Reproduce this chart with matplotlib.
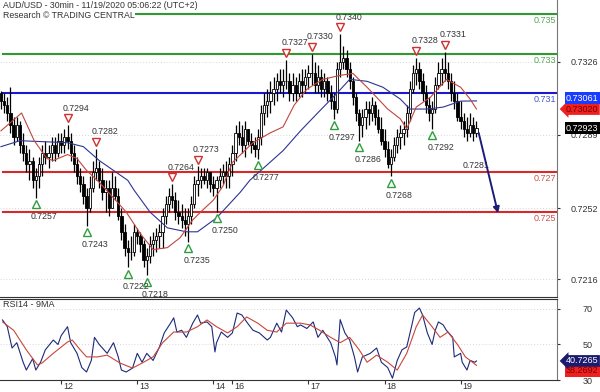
import numpy as np
import matplotlib
matplotlib.use('Agg')
import matplotlib.pyplot as plt
from matplotlib import transforms

plt.rcParams['font.family'] = ['Liberation Sans', 'DejaVu Sans']

# hourly candles, first one 11/11 05:00 (UTC+2)
first_open = 0.7310
highs = [0.7311, 0.7310, 0.7308, 0.7313, 0.7298, 0.7298, 0.7296, 0.7290, 0.7284, 0.7282,
         0.7278, 0.7272, 0.7278, 0.7284, 0.7286, 0.7284, 0.7288, 0.7288, 0.7290, 0.7290,
         0.7292, 0.7294, 0.7290, 0.7284, 0.7278, 0.7272, 0.7268, 0.7262, 0.7268, 0.7276,
         0.7282, 0.7276, 0.7272, 0.7266, 0.7266, 0.7270, 0.7268, 0.7262, 0.7252, 0.7244,
         0.7236, 0.7238, 0.7244, 0.7242, 0.7240, 0.7236, 0.7232, 0.7238, 0.7240, 0.7242,
         0.7244, 0.7252, 0.7258, 0.7262, 0.7264, 0.7260, 0.7256, 0.7254, 0.7252, 0.7252,
         0.7258, 0.7268, 0.7273, 0.7272, 0.7272, 0.7272, 0.7270, 0.7268, 0.7268, 0.7272,
         0.7274, 0.7276, 0.7278, 0.7284, 0.7294, 0.7296, 0.7294, 0.7296, 0.7292, 0.7290,
         0.7288, 0.7292, 0.7304, 0.7310, 0.7312, 0.7316, 0.7318, 0.7320, 0.7322, 0.7322,
         0.7327, 0.7320, 0.7320, 0.7318, 0.7320, 0.7322, 0.7322, 0.7324, 0.7330, 0.7326,
         0.7324, 0.7322, 0.7320, 0.7318, 0.7314, 0.7310, 0.7326, 0.7340, 0.7334, 0.7332,
         0.7326, 0.7318, 0.7310, 0.7302, 0.7302, 0.7306, 0.7306, 0.7308, 0.7306, 0.7302,
         0.7298, 0.7292, 0.7286, 0.7282, 0.7288, 0.7292, 0.7294, 0.7296, 0.7304, 0.7316,
         0.7324, 0.7328, 0.7326, 0.7320, 0.7314, 0.7308, 0.7306, 0.7318, 0.7326, 0.7328,
         0.7331, 0.7326, 0.7320, 0.7316, 0.7310, 0.7306, 0.7300, 0.7298, 0.7300, 0.7298,
         0.7296]
lows = [0.7302, 0.7300, 0.7296, 0.7290, 0.7284, 0.7286, 0.7280, 0.7276, 0.7270, 0.7266,
        0.7262, 0.7257, 0.7262, 0.7268, 0.7274, 0.7272, 0.7276, 0.7276, 0.7278, 0.7280,
        0.7280, 0.7282, 0.7276, 0.7270, 0.7264, 0.7260, 0.7254, 0.7243, 0.7250, 0.7260,
        0.7266, 0.7262, 0.7256, 0.7250, 0.7248, 0.7252, 0.7256, 0.7246, 0.7236, 0.7228,
        0.7222, 0.7226, 0.7228, 0.7234, 0.7230, 0.7222, 0.7218, 0.7224, 0.7228, 0.7230,
        0.7232, 0.7232, 0.7244, 0.7250, 0.7252, 0.7246, 0.7244, 0.7242, 0.7238, 0.7235,
        0.7244, 0.7252, 0.7258, 0.7262, 0.7264, 0.7262, 0.7260, 0.7258, 0.7250, 0.7262,
        0.7264, 0.7262, 0.7262, 0.7268, 0.7276, 0.7284, 0.7280, 0.7278, 0.7284, 0.7280,
        0.7278, 0.7277, 0.7284, 0.7294, 0.7298, 0.7300, 0.7304, 0.7306, 0.7310, 0.7308,
        0.7312, 0.7306, 0.7306, 0.7306, 0.7308, 0.7308, 0.7310, 0.7312, 0.7314, 0.7310,
        0.7310, 0.7308, 0.7308, 0.7306, 0.7302, 0.7297, 0.7300, 0.7318, 0.7322, 0.7318,
        0.7312, 0.7304, 0.7296, 0.7286, 0.7288, 0.7292, 0.7294, 0.7296, 0.7294, 0.7290,
        0.7284, 0.7278, 0.7272, 0.7268, 0.7276, 0.7280, 0.7282, 0.7284, 0.7288, 0.7296,
        0.7310, 0.7314, 0.7312, 0.7306, 0.7300, 0.7296, 0.7292, 0.7300, 0.7312, 0.7314,
        0.7316, 0.7312, 0.7306, 0.7302, 0.7296, 0.7292, 0.7288, 0.7286, 0.7288, 0.7286,
        0.7288]
closes = [0.7306, 0.7304, 0.7300, 0.7294, 0.7288, 0.7294, 0.7284, 0.7280, 0.7274, 0.7276,
          0.7266, 0.7268, 0.7274, 0.7280, 0.7278, 0.7280, 0.7284, 0.7280, 0.7286, 0.7284,
          0.7288, 0.7286, 0.7280, 0.7274, 0.7268, 0.7264, 0.7258, 0.7252, 0.7262, 0.7270,
          0.7272, 0.7266, 0.7260, 0.7262, 0.7252, 0.7262, 0.7258, 0.7248, 0.7240, 0.7232,
          0.7230, 0.7230, 0.7240, 0.7238, 0.7234, 0.7226, 0.7228, 0.7234, 0.7236, 0.7238,
          0.7240, 0.7248, 0.7254, 0.7258, 0.7256, 0.7250, 0.7248, 0.7246, 0.7244, 0.7248,
          0.7254, 0.7264, 0.7266, 0.7268, 0.7266, 0.7270, 0.7264, 0.7262, 0.7266, 0.7268,
          0.7270, 0.7268, 0.7274, 0.7280, 0.7290, 0.7288, 0.7284, 0.7292, 0.7286, 0.7284,
          0.7282, 0.7288, 0.7300, 0.7304, 0.7306, 0.7310, 0.7312, 0.7316, 0.7314, 0.7316,
          0.7316, 0.7310, 0.7314, 0.7310, 0.7316, 0.7314, 0.7318, 0.7320, 0.7320, 0.7314,
          0.7318, 0.7312, 0.7316, 0.7310, 0.7306, 0.7302, 0.7322, 0.7326, 0.7328, 0.7322,
          0.7316, 0.7308, 0.7300, 0.7294, 0.7298, 0.7302, 0.7300, 0.7304, 0.7298, 0.7292,
          0.7286, 0.7282, 0.7274, 0.7278, 0.7284, 0.7288, 0.7290, 0.7292, 0.7300, 0.7312,
          0.7320, 0.7322, 0.7316, 0.7310, 0.7304, 0.7300, 0.7302, 0.7314, 0.7320, 0.7322,
          0.7320, 0.7316, 0.7310, 0.7306, 0.7298, 0.7296, 0.7292, 0.7290, 0.7294, 0.7290,
          0.72923]

# moving averages on price (bar index, value)
ma_fast_t = [0, 6.5, 10.5, 14.5, 16.5, 21, 24, 27, 31, 35, 39.5, 44, 48, 52.5, 56.5, 60.5,
             63, 67, 70, 73, 79.5, 85, 89, 92.5, 96.5, 101.5, 107, 111, 115.5, 122, 126,
             128, 131, 135.5, 140.5, 145, 148, 150]
ma_fast = [0.7291, 0.7300, 0.7286, 0.7277, 0.7276, 0.7279, 0.7277, 0.7271, 0.7265, 0.7258,
           0.7250, 0.7239, 0.7231, 0.7232, 0.7237, 0.7246, 0.7250, 0.7256, 0.7263, 0.7275,
           0.7285, 0.7290, 0.7293, 0.7304, 0.7312, 0.7317, 0.7319, 0.7320, 0.7313, 0.7302,
           0.7297, 0.7292, 0.7303, 0.7308, 0.7317, 0.7313, 0.7307, 0.7302]
ma_slow_t = [0, 6, 21, 26, 31, 40, 42, 47, 52.5, 58.5, 62, 68, 75.5, 78.5, 89, 94.5, 100.5,
             106, 110, 115.5, 120.5, 126, 129, 134.5, 139.5, 145, 150]
ma_slow = [0.7283, 0.7286, 0.7285, 0.7283, 0.7276, 0.7266, 0.7261, 0.7250, 0.7242, 0.7240,
           0.7240, 0.7247, 0.7260, 0.7266, 0.7281, 0.7291, 0.7301, 0.7310, 0.7317, 0.7316,
           0.7313, 0.7307, 0.7302, 0.7302, 0.7303, 0.7306, 0.73061]

# RSI14 and its 9MA
rsi_t = [0.5, 2, 3.5, 5, 7, 8, 10, 11, 12.5, 14, 16.5, 18, 19, 21, 22, 24, 25.5, 27, 28.5,
         29.5, 31, 33.5, 35.5, 37, 38, 39.5, 41.5, 43, 44.5, 46, 48, 50, 51.5, 53.5, 54.5,
         55.5, 57, 58.5, 60.5, 62, 63, 65, 66.5, 67.5, 68, 69.5, 71.5, 73, 74.5, 76, 77.5,
         79.5, 81.5, 84, 85, 87, 88.5, 90, 92, 93.5, 94.5, 96.5, 98.5, 100, 101.5, 104,
         105.5, 106, 107, 108.5, 110, 111.5, 112.5, 114, 116.5, 118.5, 120, 122, 123.5, 125,
         126.5, 128, 129.5, 130.5, 132, 133, 134.5, 136, 137, 138, 139.5, 140.5, 142.5,
         143, 145, 145.5, 147, 148, 149.5, 150]
rsi = [63.8, 60, 48, 51, 40, 35.6, 42, 35.6, 40, 47, 52.5, 50, 55, 60, 51, 45, 37, 34.5, 41,
       54, 50, 45, 51, 43, 35.6, 34.5, 36.7, 45, 40, 45, 41, 48.6, 56.5, 62, 65,
       57, 58, 54, 62, 66.6, 62, 62.7, 60, 45.8, 51, 57, 54, 56.5, 67.7, 66.6, 62.7,
       58, 56.5, 52.5, 54, 62, 57, 69.4, 65, 60, 61, 59, 62.7, 54, 58, 51,
       43, 38.5, 64, 56.5, 52.5, 43, 34.5, 43, 45, 48, 40, 37, 31, 41,
       47, 48.6, 60, 68, 70.5, 66.6, 56.5, 50, 58, 62.7, 61, 58, 54,
       43, 45, 40, 35.6, 41, 40, 40.7265]
rsi_ma_t = [0.5, 4, 8, 11.5, 13, 16.5, 21, 22.5, 25, 27, 30.5, 33.5, 37.5, 41.5, 45, 48, 51,
            54.5, 58.5, 62, 65, 68, 71.5, 74.5, 77.5, 81, 84, 87, 90, 94.5, 97.5, 100.5,
            104, 107, 110, 113, 115.5, 118.5, 122, 125, 128, 131, 133, 136, 138.5, 141,
            144, 146.5, 148, 150]
rsi_ma = [62.7, 58, 47, 38.5, 39.6, 45, 51.4, 52.5, 47, 43, 43, 44, 39.6, 36.7, 40, 43, 51,
          57, 57, 60, 63.8, 60, 56.5, 60, 65.5, 62, 58, 57, 62, 62, 61, 58, 54, 51, 54, 47,
          40, 44, 40, 35.6, 45, 60, 66.6, 60, 54, 57, 50, 43, 41, 38.2692]

# swing highs / lows marked on the chart
swing_hi_t = [21, 30, 54, 62, 90, 98, 107, 131, 140]
swing_hi = [0.7294, 0.7282, 0.7264, 0.7273, 0.7327, 0.7330, 0.7340, 0.7328, 0.7331]
swing_lo_t = [11, 27, 40, 46, 59, 68, 81, 105, 113, 123, 136]
swing_lo = [0.7257, 0.7243, 0.7222, 0.7218, 0.7235, 0.7250, 0.7277, 0.7297, 0.7286, 0.7268, 0.7292]

# key levels
levels = [0.735, 0.733, 0.731, 0.727, 0.725]
level_names = ['0.735', '0.733', '0.731', '0.727', '0.725']
level_colors = ['#2f9a2f', '#2f9a2f', '#1a1acc', '#d42a2a', '#d42a2a']
level_text_colors = ['#55a855', '#55a855', '#4a55cc', '#d05050', '#d05050']

price_ticks = [0.7326, 0.7289, 0.7252, 0.7216]
day_pos = [19, 43, 67, 73, 97, 121, 145]
day_labels = ['12', '13', '14', '16', '17', '18', '19']

forecast_t = 157
forecast_price = 0.7248
pivot_label = '0.7281'

highs = np.array(highs)
lows = np.array(lows)
closes = np.array(closes)
opens = np.concatenate([[first_open], closes[:-1]])
x = np.arange(len(closes))

fig = plt.figure(figsize=(6, 3.92), dpi=100)
ax = fig.add_axes([0, 1 - 297 / 392, 557 / 600, 297 / 392])
ax2 = fig.add_axes([0, 1 - 380 / 392, 557 / 600, 81 / 392])

txt = '#333333'

# ---- price panel
ax.set_xlim(-0.3, 175.4)
ax.set_ylim(0.720707, 0.735707)

for lv, c in zip(levels, level_colors):
    ax.axhline(lv, color=c, lw=1.5, zorder=1, xmin=0.005)

ax.vlines(x, lows, highs, color='black', lw=0.9, zorder=3)
up = closes >= opens
ax.bar(x[up], closes[up] - opens[up], bottom=opens[up], width=0.72,
       color='white', edgecolor='black', lw=0.6, zorder=4)
ax.bar(x[~up], opens[~up] - closes[~up], bottom=closes[~up], width=0.72,
       color='black', edgecolor='black', lw=0.6, zorder=4)

ax.plot(ma_slow_t, ma_slow, color='#2c3590', lw=0.8, zorder=5)
ax.plot(ma_fast_t, ma_fast, color='#c0463c', lw=0.8, zorder=5)

up_off = transforms.offset_copy(ax.transData, fig=fig, x=0, y=5, units='points')
dn_off = transforms.offset_copy(ax.transData, fig=fig, x=0, y=-4.5, units='points')
ax.plot(swing_hi_t, swing_hi, 'v', transform=up_off, ms=5.5, mfc='white',
        mec='#d03030', mew=1.0, zorder=6)
ax.plot(swing_lo_t, swing_lo, '^', transform=dn_off, ms=5.5, mfc='white',
        mec='#2e9e3e', mew=1.0, zorder=6)
for t, v in zip(swing_hi_t, swing_hi):
    ax.annotate(f'{v:.4f}', (t, v), xytext=(-3.5, 12), textcoords='offset points',
                ha='left', va='center', fontsize=6.3, color=txt, zorder=7)
for t, v in zip(swing_lo_t, swing_lo):
    ax.annotate(f'{v:.4f}', (t, v), xytext=(-3.5, -13.5), textcoords='offset points',
                ha='left', va='center', fontsize=6.3, color=txt, zorder=7)

ax.annotate('', xy=(forecast_t, forecast_price), xytext=(x[-1] + 0.5, closes[-1] - 0.0001),
            arrowprops=dict(arrowstyle='-|>', color='#1c1c7a', lw=1.4, mutation_scale=9),
            zorder=6)
ax.annotate(pivot_label, (145.5, levels[3]), xytext=(0, 1.5), textcoords='offset points',
            ha='left', va='bottom', fontsize=6.3, color=txt)

rt = transforms.blended_transform_factory(ax.transAxes, ax.transData)
for lv, name, c in zip(levels, level_names, level_text_colors):
    ax.annotate(name, (0.998, lv), xycoords=rt, xytext=(0, -1.5), textcoords='offset points',
                ha='right', va='top', fontsize=6.5, color=c)

ax.text(0.005, 0.981, 'AUD/USD - 30min - 11/19/2020 05:06:22 (UTC+2)', transform=ax.transAxes,
        fontsize=6.3, color=txt, va='center', ha='left')
ax.text(0.005, 0.947, 'Research \u00a9 TRADING CENTRAL', transform=ax.transAxes,
        fontsize=6.3, color=txt, va='center', ha='left', zorder=8,
        bbox=dict(facecolor='white', edgecolor='none', pad=0.6))

ax.yaxis.tick_right()
ax.set_yticks(price_ticks)
ax.set_yticklabels([f'{v:.4f}' for v in price_ticks])
ax.tick_params(axis='y', length=2.5, pad=7, labelsize=6.5, colors=txt)
ax.set_xticks([])
ax.grid(axis='y', linestyle=(0, (1, 2.5)), color='#c8c8c8', lw=0.6)
for s in ['top', 'left']:
    ax.spines[s].set_visible(False)
ax.spines['right'].set_color('#777777')
ax.spines['bottom'].set_color('#333333')

# current value boxes on the price scale
ax.text(1.016, ma_fast[-1], f'{ma_fast[-1]:.5f}', transform=rt, ha='left', va='center',
        fontsize=6.5, color='#7a0000', clip_on=False, zorder=9,
        bbox=dict(boxstyle='larrow,pad=0.15', facecolor='#ee2020', edgecolor='none'))
ax.annotate(f'{ma_slow[-1]:.5f}', (1.016, ma_slow[-1]), xycoords=rt, xytext=(0, 2),
            textcoords='offset points', ha='left', va='center', fontsize=6.5,
            color='white', annotation_clip=False, zorder=10,
            bbox=dict(boxstyle='square,pad=0.15', facecolor='#1a3cff', edgecolor='none'))
ax.text(1.016, closes[-1], f'{closes[-1]:.5f}', transform=rt, ha='left', va='center',
        fontsize=6.5, color='white', clip_on=False, zorder=10,
        bbox=dict(boxstyle='square,pad=0.15', facecolor='black', edgecolor='none'))

# ---- RSI panel
ax2.set_xlim(-0.3, 175.4)
ax2.set_ylim(30, 75.6)
ax2.plot(rsi_t, rsi, color='#1c2a7a', lw=0.8)
ax2.plot(rsi_ma_t, rsi_ma, color='#c8463c', lw=0.8)
ax2.text(0.005, 0.935, 'RSI14 - 9MA', transform=ax2.transAxes, fontsize=6.5,
         color=txt, va='center', ha='left')

ax2.yaxis.tick_right()
ax2.set_yticks([30, 50, 70])
ax2.tick_params(axis='y', length=2.5, pad=16, labelsize=6.5, colors=txt)
ax2.grid(axis='y', linestyle=(0, (1, 2.5)), color='#c8c8c8', lw=0.6)
ax2.set_xticks(day_pos)
ax2.set_xticklabels([])
ax2.tick_params(axis='x', length=3, direction='out', colors=txt)
for t, lab in zip(day_pos, day_labels):
    ax2.annotate(lab, (t, 0), xycoords=ax2.get_xaxis_transform(), xytext=(1.5, -1.5),
                 textcoords='offset points', ha='left', va='top', fontsize=6.5, color=txt,
                 annotation_clip=False)
ax2.spines['left'].set_visible(False)
for s in ['top', 'bottom']:
    ax2.spines[s].set_color('#333333')
ax2.spines['right'].set_color('#777777')

rt2 = transforms.blended_transform_factory(ax2.transAxes, ax2.transData)
ax2.text(1.016, rsi[-1], f'{rsi[-1]:.4f}', transform=rt2, ha='left', va='center',
         fontsize=6.5, color='white', clip_on=False, zorder=10,
         bbox=dict(boxstyle='larrow,pad=0.15', facecolor='#1a1a6e', edgecolor='none'))
ax2.annotate(f'{rsi_ma[-1]:.4f}', (1.016, rsi_ma[-1]), xycoords=rt2, xytext=(0, -4),
             textcoords='offset points', ha='left', va='center', fontsize=6.5,
             color='#7a0000', annotation_clip=False, zorder=9,
             bbox=dict(boxstyle='square,pad=0.15', facecolor='#ee2020', edgecolor='none'))

fig.savefig('out.png', dpi=100)
